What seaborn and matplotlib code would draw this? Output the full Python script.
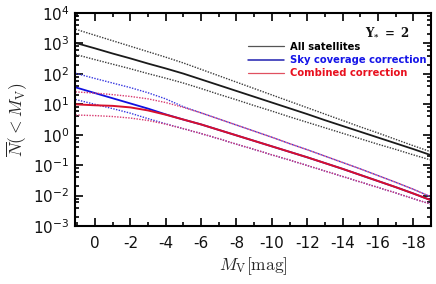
import numpy as np
import pandas as pd
import matplotlib
matplotlib.use("Agg")
import matplotlib.pyplot as plt
from matplotlib.ticker import MultipleLocator, LogLocator, NullFormatter
from matplotlib.lines import Line2D
import seaborn as sns

# ---- data (log10 of N(<M_V)) ----
mv = [1.1, 0, -1, -2, -3, -4, -5, -6, -7, -8, -9, -10, -11, -12, -13, -14, -15, -16, -17, -18, -19]

all_mid = [3.02, 2.84, 2.67, 2.51, 2.34, 2.18, 2.01, 1.82, 1.63, 1.44, 1.25, 1.06, 0.87, 0.68, 0.48, 0.29, 0.10, -0.09, -0.28, -0.47, -0.67]
all_hi = [3.47, 3.27, 3.09, 2.91, 2.73, 2.55, 2.36, 2.15, 1.94, 1.73, 1.52, 1.31, 1.10, 0.89, 0.68, 0.47, 0.26, 0.06, -0.15, -0.36, -0.56]
all_lo = [2.64, 2.47, 2.32, 2.17, 2.01, 1.86, 1.70, 1.52, 1.33, 1.15, 0.96, 0.78, 0.59, 0.41, 0.23, 0.05, -0.13, -0.31, -0.48, -0.66, -0.83]

comb_mid = [1.00, 0.97, 0.95, 0.90, 0.80, 0.66, 0.50, 0.34, 0.16, -0.02, -0.20, -0.38, -0.56, -0.74, -0.93, -1.12, -1.32, -1.52, -1.72, -1.93, -2.15]
comb_hi = [1.41, 1.37, 1.32, 1.26, 1.18, 1.06, 0.90, 0.72, 0.52, 0.32, 0.12, -0.08, -0.29, -0.49, -0.70, -0.91, -1.12, -1.34, -1.56, -1.79, -2.04]
comb_lo = [0.65, 0.63, 0.60, 0.55, 0.47, 0.35, 0.20, 0.04, -0.13, -0.31, -0.48, -0.66, -0.83, -1.01, -1.19, -1.37, -1.55, -1.73, -1.91, -2.10, -2.28]

sky_mid = [1.56, 1.37, 1.20, 1.03, 0.86, 0.67, 0.50, 0.34, 0.16, -0.02, -0.20, -0.38, -0.56, -0.74, -0.93, -1.12, -1.32, -1.52, -1.72, -1.93, -2.15]
sky_hi = [2.02, 1.85, 1.70, 1.55, 1.38, 1.18, 0.92, 0.72, 0.52, 0.32, 0.12, -0.08, -0.29, -0.49, -0.70, -0.91, -1.12, -1.34, -1.56, -1.79, -2.04]
sky_lo = [1.16, 1.00, 0.86, 0.71, 0.53, 0.36, 0.20, 0.04, -0.13, -0.31, -0.48, -0.66, -0.83, -1.01, -1.19, -1.37, -1.55, -1.73, -1.91, -2.10, -2.28]

labels = ["All satellites", "Sky coverage correction", "Combined correction"]
x_ticks = [0, -2, -4, -6, -8, -10, -12, -14, -16, -18]

# ---- style ----
sns.set_theme(style="white")
plt.rcParams["font.family"] = ["DejaVu Sans"]
plt.rcParams["mathtext.fontset"] = "cm"

fig = plt.figure(figsize=(4.36, 2.84), dpi=100)
ax = fig.add_axes([0.172, 0.204, 0.8165, 0.750])

def draw(vals, color, ls, lw):
    df = pd.DataFrame({"mv": mv, "N": np.power(10.0, vals)})
    sns.lineplot(data=df, x="mv", y="N", ax=ax, color=color, linestyle=ls,
                 linewidth=lw, sort=False, estimator=None)

dot = (0, (1.0, 1.0))
# black
draw(all_hi, "#3a3a3a", dot, 1.0)
draw(all_lo, "#3a3a3a", dot, 1.0)
draw(all_mid, "#1a1a1a", "-", 1.3)
# blue
draw(sky_hi, "#3535e0", dot, 1.0)
draw(sky_lo, "#3535e0", dot, 1.0)
draw(sky_mid, "#1010e0", "-", 1.3)
# red
draw(comb_hi, "#d83a70", dot, 1.0)
draw(comb_lo, "#d83a70", dot, 1.0)
draw(comb_mid, "#d8102c", "-", 1.4)

ax.set_yscale("log")
ax.set_xlim(1.13, -19.0)
ax.set_ylim(1e-3, 1e4)

ax.xaxis.set_major_locator(MultipleLocator(2))
ax.xaxis.set_minor_locator(MultipleLocator(1))
ax.set_xticks(x_ticks)
ax.set_xticklabels([str(t) for t in x_ticks])
ax.yaxis.set_major_locator(LogLocator(base=10, numticks=20))
ax.yaxis.set_minor_locator(LogLocator(base=10, subs=(2, 4, 6, 8), numticks=20))
ax.yaxis.set_minor_formatter(NullFormatter())

ax.tick_params(which="both", direction="in", top=True, right=True,
               bottom=True, left=True, color="black", width=1.2)
ax.tick_params(which="major", length=5.5)
ax.tick_params(which="minor", length=3.2)
ax.tick_params(axis="x", which="major", labelsize=11, pad=7, labelcolor="#111")
ax.tick_params(axis="y", which="major", labelsize=11, pad=4, labelcolor="#111")

for s in ax.spines.values():
    s.set_color("black")
    s.set_linewidth(1.5)

ax.set_xlabel(r"$M_{\rm V}[{\rm mag}]$", fontsize=12.5, labelpad=3)
ax.set_ylabel(r"$\overline{N}(<M_{\rm V})$", fontsize=12.5, labelpad=2)

handles = [Line2D([], [], color="#555555", lw=0.9),
           Line2D([], [], color="#2020b0", lw=1.1),
           Line2D([], [], color="#e05060", lw=0.9)]
leg = ax.legend(handles, labels, loc="upper left", bbox_to_anchor=(0.486, 0.865),
                frameon=False, handlelength=3.6, handletextpad=0.6,
                labelspacing=0.32, borderpad=0, borderaxespad=0,
                prop={"weight": "bold", "size": 7.2})
for txt, c in zip(leg.get_texts(), ["black", "#1515e8", "#e8101e"]):
    txt.set_color(c)

ax.text(0.938, 0.907, r"$\mathbf{\Upsilon_{*}\ =\ 2}$", transform=ax.transAxes,
        ha="right", va="center", fontsize=8.5, color="#111",
        math_fontfamily="dejavuserif")

fig.savefig("out.png", dpi=100)
